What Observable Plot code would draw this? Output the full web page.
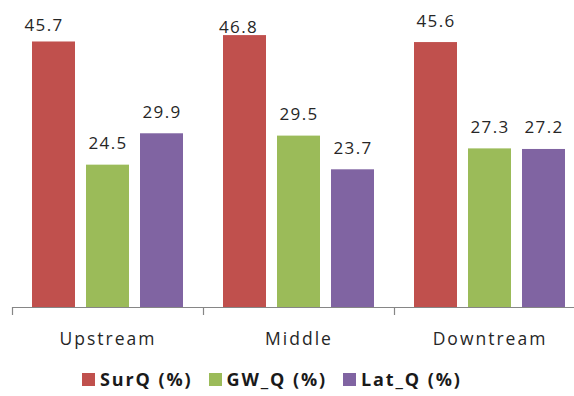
<!DOCTYPE html>
<html>
<head>
<meta charset="utf-8">
<script src="https://cdn.jsdelivr.net/npm/d3@7"></script>
<script src="https://cdn.jsdelivr.net/npm/@observablehq/plot@0.6"></script>
<style>
  html, body { margin: 0; padding: 0; background: #fff; overflow: hidden; }
  #chart { width: 574px; height: 396px; overflow: hidden; position: relative; }
  #chart svg { display: block; max-width: none !important; height: auto; }
  #chart text { font-family: "Open Sans", sans-serif; fill: #262626; }
  g[aria-label="fx-axis tick label"] text { letter-spacing: 2px; font-size: 17.5px; }
  g[aria-label="text"] text { letter-spacing: 1.3px; }
  .legend { display: flex; align-items: center; margin-left: 82px; margin-top: 9px;
            font-family: "Open Sans", sans-serif; font-weight: bold; font-size: 18px;
            line-height: 20px; color: #1a1a1a; letter-spacing: 1.9px; }
  .legend .item { display: flex; align-items: center; margin-right: 16px; }
  .legend .sw { width: 13px; height: 13px; margin-right: 5px; }
</style>
</head>
<body>
<div id="chart"></div>
<script>
// Share of flow components by reach
const sites = ["Upstream", "Middle", "Downtream"];
const seriesNames = ["SurQ (%)", "GW_Q (%)", "Lat_Q (%)"];
const surQ = [45.7, 46.8, 45.6];
const gwQ = [24.5, 29.5, 27.3];
const latQ = [29.9, 23.7, 27.2];
const colors = ["#C0504D", "#9BBB59", "#8064A2"];

const seriesValues = [surQ, gwQ, latQ];
const rows = sites.flatMap((site, i) =>
  seriesNames.map((series, j) => ({site, series, value: seriesValues[j][i]}))
);

const W = 585, H = 360, mL = 12, mR = 0;
const groupWidth = (W - mL - mR) / sites.length;

// labels nudged where the tallest bars reach the top of the plot
const isUp = d => d.site === "Upstream" && d.series === "SurQ (%)";
const isMid = d => d.site === "Middle" && d.series === "SurQ (%)";
const label = d => d.value.toFixed(1);

const chart = Plot.plot({
  width: W,
  height: H,
  marginLeft: mL,
  marginRight: mR,
  marginTop: 16.5,
  marginBottom: H - 307,
  style: {fontSize: "17px", fontFamily: "Open Sans, sans-serif", background: "transparent"},
  fx: {domain: sites, padding: 0, label: null},
  x: {domain: seriesNames, paddingInner: 0.2037, paddingOuter: 0.37, axis: null},
  y: {domain: [0, 50], axis: null},
  color: {domain: seriesNames, range: colors},
  marks: [
    Plot.barY(rows, {fx: "site", x: "series", y: "value", fill: "series"}),
    Plot.ruleY([0], {stroke: "#868686", strokeWidth: 1.2}),
    Plot.axisFx({anchor: "bottom", text: null, label: null, tickSize: 8, dx: -groupWidth / 2, stroke: "#868686", strokeWidth: 1.2}),
    Plot.axisFx({anchor: "bottom", label: null, tickSize: 0, tickPadding: 25, fontSize: 17.5, fill: "#262626"}),
    Plot.text(rows.filter(d => !isUp(d) && !isMid(d)), {fx: "site", x: "series", y: "value", text: label, lineAnchor: "bottom", dy: -16, fontSize: 17}),
    Plot.text(rows.filter(isUp), {fx: "site", x: "series", y: "value", text: label, lineAnchor: "bottom", dy: -11, dx: -10, fontSize: 17}),
    Plot.text(rows.filter(isMid), {fx: "site", x: "series", y: "value", text: label, lineAnchor: "bottom", dy: -2.5, dx: -6.5, fontSize: 17})
  ]
});

const root = document.getElementById("chart");
root.appendChild(chart);

const legend = document.createElement("div");
legend.className = "legend";
seriesNames.forEach((name, i) => {
  const item = document.createElement("div");
  item.className = "item";
  const sw = document.createElement("span");
  sw.className = "sw";
  sw.style.background = colors[i];
  const t = document.createElement("span");
  t.textContent = name;
  item.appendChild(sw);
  item.appendChild(t);
  legend.appendChild(item);
});
root.appendChild(legend);
</script>
</body>
</html>
